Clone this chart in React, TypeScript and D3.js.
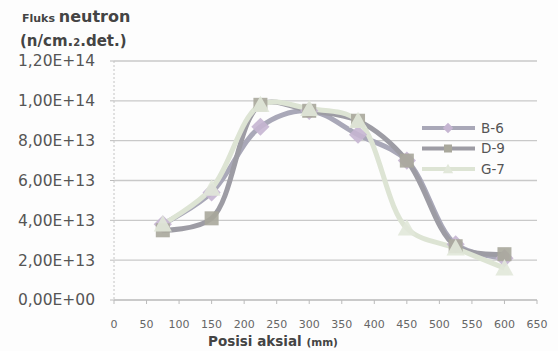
import React from "react";
import * as d3 from "d3";

const positions = [75, 150, 225, 300, 375, 450, 525, 600];
const seriesNames = ["B-6", "D-9", "G-7"];
const b6 = [3.8e13, 5.4e13, 8.7e13, 9.5e13, 8.3e13, 7.0e13, 2.8e13, 2.1e13];
const d9 = [3.5e13, 4.1e13, 9.8e13, 9.5e13, 9.0e13, 7.0e13, 2.7e13, 2.3e13];
const g7 = [3.8e13, 5.6e13, 9.8e13, 9.6e13, 9.0e13, 3.6e13, 2.6e13, 1.6e13];
const yTicks = [0, 2e13, 4e13, 6e13, 8e13, 1e14, 1.2e14];
const yTickLabels = ["0,00E+00", "2,00E+13", "4,00E+13", "6,00E+13", "8,00E+13", "1,00E+14", "1,20E+14"];
const xTicks = [0, 50, 100, 150, 200, 250, 300, 350, 400, 450, 500, 550, 600, 650];

const W = 558, H = 351;
const FONT = "'DejaVu Sans', sans-serif";

export default function App() {
  const x = d3.scaleLinear().domain([0, 650]).range([114, 537]);
  const y = d3.scaleLinear().domain([0, 1.2e14]).range([300, 61]);
  const line = d3
    .line<number>()
    .x((_, i) => x(positions[i]))
    .y((v) => y(v))
    .curve(d3.curveCatmullRom.alpha(0.5));

  const styles = [
    { values: b6, stroke: "#a9a8b8", marker: "#c6b6d2", shape: "diamond" },
    { values: d9, stroke: "#9d9ca4", marker: "#a9a89c", shape: "square" },
    { values: g7, stroke: "#dde4d4", marker: "#e2e8da", shape: "triangle" },
  ];

  const marker = (shape: string, cx: number, cy: number, fill: string, s: number) => {
    if (shape === "square")
      return <rect x={cx - s / 2} y={cy - s / 2} width={s} height={s} fill={fill} />;
    if (shape === "diamond") {
      const r = s * 0.65;
      return <polygon points={`${cx},${cy - r} ${cx + r},${cy} ${cx},${cy + r} ${cx - r},${cy}`} fill={fill} />;
    }
    const r = s * 0.65;
    return <polygon points={`${cx},${cy - r} ${cx + r},${cy + r * 0.8} ${cx - r},${cy + r * 0.8}`} fill={fill} />;
  };

  return (
    <svg width={W} height={H} style={{ position: "absolute", left: 0, top: 0, background: "#fdfdfd" }}>
      {/* gridlines */}
      {yTicks.slice(1).map((t) => (
        <line key={t} x1={x(0)} x2={x(650)} y1={y(t)} y2={y(t)} stroke="#c9c9c9" strokeWidth={1.4} />
      ))}
      {/* y axis */}
      <line x1={x(0)} x2={x(0)} y1={y(1.2e14)} y2={y(0)} stroke="#c4c4c4" strokeWidth={1} strokeDasharray="2,2" />
      {yTicks.map((t) => (
        <line key={"yt" + t} x1={x(0) - 4} x2={x(0)} y1={y(t)} y2={y(t)} stroke="#bbbbbb" strokeWidth={1} />
      ))}
      {/* x axis */}
      <line x1={x(0)} x2={x(650)} y1={y(0)} y2={y(0)} stroke="#b8b8b8" strokeWidth={1.4} />
      {xTicks.map((t) => (
        <line key={"xt" + t} x1={x(t)} x2={x(t)} y1={y(0)} y2={y(0) + 4} stroke="#bbbbbb" strokeWidth={1} />
      ))}
      {/* y tick labels */}
      {yTicks.map((t, i) => (
        <text key={"yl" + t} x={95} y={y(t)} dy="0.35em" textAnchor="end" fontFamily={FONT} fontSize={15.5} fill="#555">
          {yTickLabels[i]}
        </text>
      ))}
      {/* x tick labels */}
      {xTicks.map((t) => (
        <text key={"xl" + t} x={x(t)} y={328} textAnchor="middle" fontFamily={FONT} fontSize={11} fill="#666">
          {t}
        </text>
      ))}
      {/* axis titles */}
      <text x={22} y={22} fontFamily={FONT} fontWeight="bold" fill="#444">
        <tspan fontSize={11}>Fluks </tspan>
        <tspan fontSize={16}>neutron</tspan>
      </text>
      <text x={20} y={46} fontFamily={FONT} fontWeight="bold" fill="#444" fontSize={15}>
        (n/cm.<tspan fontSize={10}>2</tspan>.det.)
      </text>
      <text x={208} y={346} fontFamily={FONT} fontWeight="bold" fill="#444">
        <tspan fontSize={13.5}>Posisi aksial </tspan>
        <tspan fontSize={10.5}>(mm)</tspan>
      </text>
      {/* series lines */}
      {styles.map((s, k) => (
        <path key={"l" + k} d={line(s.values) || ""} fill="none" stroke={s.stroke} strokeWidth={5} strokeLinejoin="round" />
      ))}
      {/* markers */}
      {styles.map((s, k) => (
        <g key={"m" + k} opacity={0.9}>
          {s.values.map((v, i) => (
            <g key={i}>{marker(s.shape, x(positions[i]), y(v), s.marker, 14)}</g>
          ))}
        </g>
      ))}
      {/* legend */}
      {seriesNames.map((n, k) => {
        const ly = 128 + k * 20.5;
        const s = styles[k];
        return (
          <g key={"lg" + n}>
            <line x1={422} x2={475} y1={ly} y2={ly} stroke={s.stroke} strokeWidth={4} />
            {marker(s.shape, 448, ly, s.marker, 8)}
            <text x={481} y={ly} dy="0.35em" fontFamily={FONT} fontSize={13.5} fill="#555">
              {n}
            </text>
          </g>
        );
      })}
    </svg>
  );
}
